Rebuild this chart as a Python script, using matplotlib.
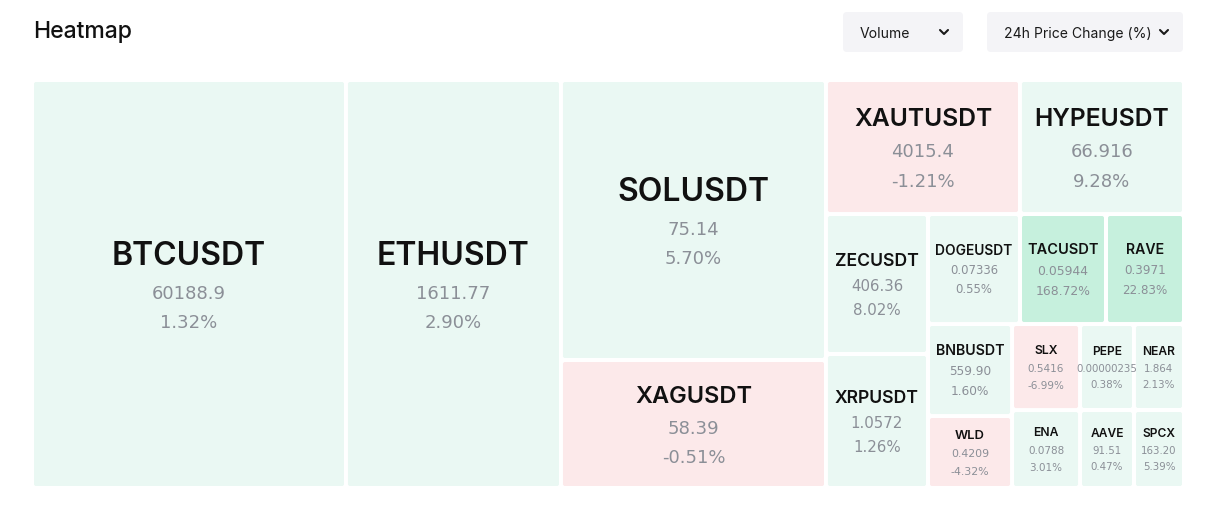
import matplotlib
matplotlib.use("Agg")
import matplotlib.pyplot as plt
from matplotlib.patches import FancyBboxPatch

# treemap data (volume in arbitrary units)
symbols = ["BTCUSDT", "ETHUSDT", "SOLUSDT", "XAGUSDT", "XAUTUSDT", "HYPEUSDT",
           "ZECUSDT", "XRPUSDT", "DOGEUSDT", "TACUSDT", "RAVE", "BNBUSDT", "WLD",
           "SLX", "ENA", "PEPE", "NEAR", "AAVE", "SPCX"]
volume = [12811, 8772, 7420, 3392, 2600, 2198, 1428, 1367, 1012, 946, 858,
          773, 605, 585, 530, 464, 430, 421, 390]
prices = ["60188.9", "1611.77", "75.14", "58.39", "4015.4", "66.916", "406.36",
          "1.0572", "0.07336", "0.05944", "0.3971", "559.90", "0.4209", "0.5416",
          "0.0788", "0.00000235", "1.864", "91.51", "163.20"]
changes = [1.32, 2.90, 5.70, -0.51, -1.21, 9.28, 8.02, 1.26, 0.55, 168.72,
           22.83, 1.60, -4.32, -6.99, 3.01, 0.38, 2.13, 0.47, 5.39]

W, H = 1216, 520
PT = 0.72  # px -> pt at dpi 100


def worst(row, side):
    s = sum(row)
    return max(max(side * side * r / (s * s), (s * s) / (side * side * r)) for r in row)


def squarify(vals, x, y, w, h):
    total = sum(vals)
    areas = [v * w * h / total for v in vals]
    rects = []
    i = 0
    while i < len(areas):
        side = min(w, h)
        row = [areas[i]]
        while i + len(row) < len(areas):
            nxt = row + [areas[i + len(row)]]
            if worst(nxt, side) <= worst(row, side):
                row = nxt
            else:
                break
        s = sum(row)
        if w >= h:
            cw = s / h
            cy = y
            for a in row:
                rects.append((x, cy, cw, a / cw))
                cy += a / cw
            x += cw
            w -= cw
        else:
            ch = s / w
            cx = x
            for a in row:
                rects.append((cx, y, a / ch, ch))
                cx += a / ch
            y += ch
            h -= ch
        i += len(row)
    return rects


def cell_color(c):
    if c < 0:
        return "#fce9ea"
    if c >= 20:
        return "#c6f0dd"
    return "#eaf8f3"


fig = plt.figure(figsize=(W / 100, H / 100), dpi=100)
ax = fig.add_axes([0, 0, 1, 1])
ax.set_xlim(0, W)
ax.set_ylim(H, 0)
ax.axis("off")
renderer = fig.canvas.get_renderer()

sym_font = "Inter"
sym_weight = 600
val_font = "DejaVu Sans"
gap = 2

rects = squarify(volume, 32, 80, 1152, 408)
for (x, y, w, h), sym, price, chg in zip(rects, symbols, prices, changes):
    x0, y0, w0, h0 = x + gap, y + gap, w - 2 * gap, h - 2 * gap
    ax.add_patch(FancyBboxPatch((x0 + 2, y0 + 2), w0 - 4, h0 - 4,
                                boxstyle="round,pad=2", linewidth=0,
                                facecolor=cell_color(chg)))
    sfs = min(32, max(12, 0.19 * min(w0, h0)))
    # shrink the symbol until it fits the cell width
    while sfs > 10:
        t = ax.text(0, 0, sym, fontsize=sfs * PT, family=sym_font, weight=sym_weight)
        tw = t.get_window_extent(renderer).width
        t.remove()
        if tw <= 0.9 * w0:
            break
        sfs -= 1
    vfs = min(18, 0.85 * sfs)
    d1 = 0.75 * sfs + 0.85 * vfs
    d2 = 1.65 * vfs
    cx = x0 + w0 / 2
    sy = y0 + h0 / 2 - (d1 + d2 + 0.5 * vfs - 0.5 * sfs) / 2
    ax.text(cx, sy + 0.36 * sfs, sym, fontsize=sfs * PT, family=sym_font,
            weight=sym_weight, color="#111111", ha="center", va="baseline")
    ax.text(cx, sy + d1 + 0.36 * vfs, price, fontsize=vfs * PT, family=val_font,
            color="#8b8f97", ha="center", va="baseline")
    ax.text(cx, sy + d1 + d2 + 0.36 * vfs, f"{chg:.2f}%", fontsize=vfs * PT,
            family=val_font, color="#8b8f97", ha="center", va="baseline")

# header
ax.text(33, 38, "Heatmap", fontsize=23 * PT, family=sym_font, weight=500,
        color="#111111", ha="left", va="baseline")


def dropdown(x0, x1, label):
    ax.add_patch(FancyBboxPatch((x0 + 4, 16), x1 - x0 - 8, 32,
                                boxstyle="round,pad=4", linewidth=0,
                                facecolor="#f4f4f7"))
    ax.text(x0 + 17, 38, label, fontsize=14 * PT, family=sym_font,
            color="#1a1a1a", ha="left", va="baseline")
    ax.plot([x1 - 23, x1 - 19, x1 - 15], [30, 34, 30], color="#1a1a1a",
            linewidth=1.5, solid_capstyle="round")


dropdown(843, 963, "Volume")
dropdown(987, 1183, "24h Price Change (%)")

fig.savefig("out.png", dpi=100, facecolor="white")
